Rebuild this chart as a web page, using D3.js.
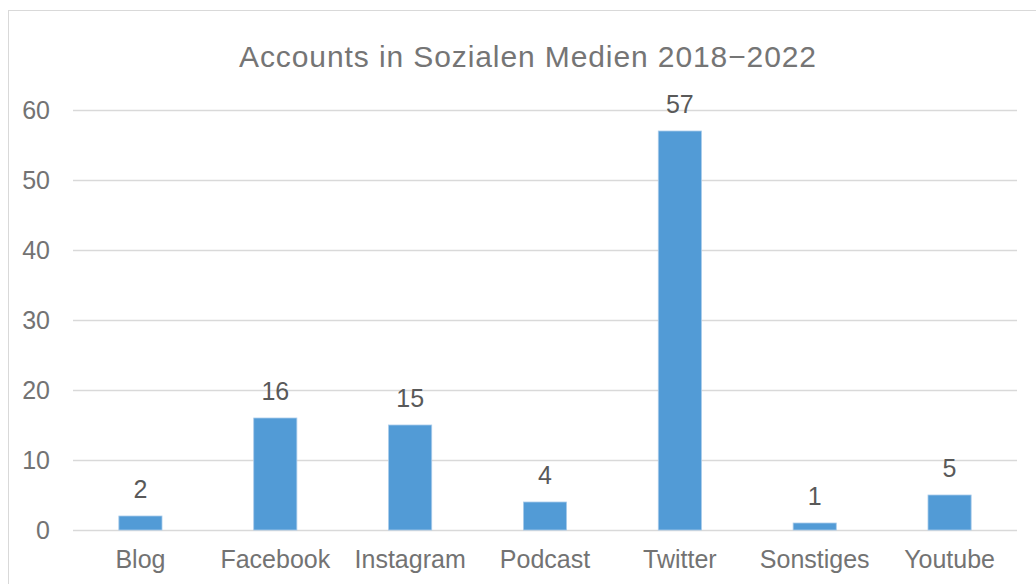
<!DOCTYPE html>
<html>
<head>
<meta charset="utf-8">
<script src="https://cdn.jsdelivr.net/npm/d3@7"></script>
<style>
  body { margin: 0; background: #fff; }
  text { font-family: "Liberation Sans", Arial, sans-serif; }
</style>
</head>
<body>
<div id="chart"></div>
<script>
// data
var categories = ["Blog", "Facebook", "Instagram", "Podcast", "Twitter", "Sonstiges", "Youtube"];
var counts = [2, 16, 15, 4, 57, 1, 5];
var yTicks = [0, 10, 20, 30, 40, 50, 60];
var title = "Accounts in Sozialen Medien 2018\u22122022";

var W = 1036, H = 584;
var margin = { top: 110, right: 19, bottom: 54, left: 73 },
  width = W - margin.left - margin.right,
  height = H - margin.top - margin.bottom;

var root = d3.select("#chart")
  .append("svg")
  .attr("width", W)
  .attr("height", H);

// outer chart frame (cut off at right/bottom in the picture)
root.append("rect")
  .attr("x", 8.5).attr("y", 10.5)
  .attr("width", W + 20).attr("height", H + 20)
  .attr("fill", "none")
  .attr("stroke", "#d9d9d9")
  .attr("stroke-width", 1);

root.append("text")
  .attr("x", 528)
  .attr("y", 67)
  .attr("text-anchor", "middle")
  .style("font-size", "30px")
  .style("letter-spacing", "0.9px")
  .style("fill", "#757575")
  .text(title);

var svg = root.append("g")
  .attr("transform", "translate(" + margin.left + "," + margin.top + ")");

var x = d3.scaleBand()
  .domain(categories)
  .range([0, width])
  .paddingInner(0.68)
  .paddingOuter(0.34);

var y = d3.scaleLinear()
  .domain([0, 60])
  .range([height, 0]);

// gridlines
svg.append("g")
  .selectAll("line")
  .data(yTicks)
  .enter()
  .append("line")
  .attr("x1", 0)
  .attr("x2", width)
  .attr("y1", function (d) { return Math.round(y(d)) + 0.5; })
  .attr("y2", function (d) { return Math.round(y(d)) + 0.5; })
  .attr("stroke", "#d9d9d9")
  .attr("stroke-width", 1.5);

// y axis labels
var yAxis = svg.append("g")
  .call(d3.axisLeft(y).tickValues(yTicks).tickSize(0).tickPadding(23));
yAxis.select(".domain").remove();
yAxis.selectAll("text")
  .style("font-size", "25px")
  .style("fill", "#737373")
  .style("font-family", "'Liberation Sans', Arial, sans-serif");

// x axis labels
var xAxis = svg.append("g")
  .attr("transform", "translate(0," + height + ")")
  .call(d3.axisBottom(x).tickSize(0).tickPadding(20));
xAxis.select(".domain").remove();
xAxis.selectAll("text")
  .style("font-size", "25px")
  .style("fill", "#737373")
  .style("font-family", "'Liberation Sans', Arial, sans-serif");

// bars
svg.selectAll(".bar")
  .data(counts)
  .enter()
  .append("rect")
  .attr("class", "bar")
  .attr("x", function (d, i) { return x(categories[i]); })
  .attr("y", function (d) { return y(d); })
  .attr("width", x.bandwidth())
  .attr("height", function (d) { return height - y(d); })
  .attr("fill", "#529bd6")
  .attr("stroke", "#a9cbea")
  .attr("stroke-width", 0.8);

// value labels
svg.selectAll(".val")
  .data(counts)
  .enter()
  .append("text")
  .attr("class", "val")
  .attr("x", function (d, i) { return x(categories[i]) + x.bandwidth() / 2; })
  .attr("y", function (d) { return y(d) - 18; })
  .attr("text-anchor", "middle")
  .style("font-size", "25px")
  .style("fill", "#595959")
  .text(function (d) { return d; });
</script>
</body>
</html>
